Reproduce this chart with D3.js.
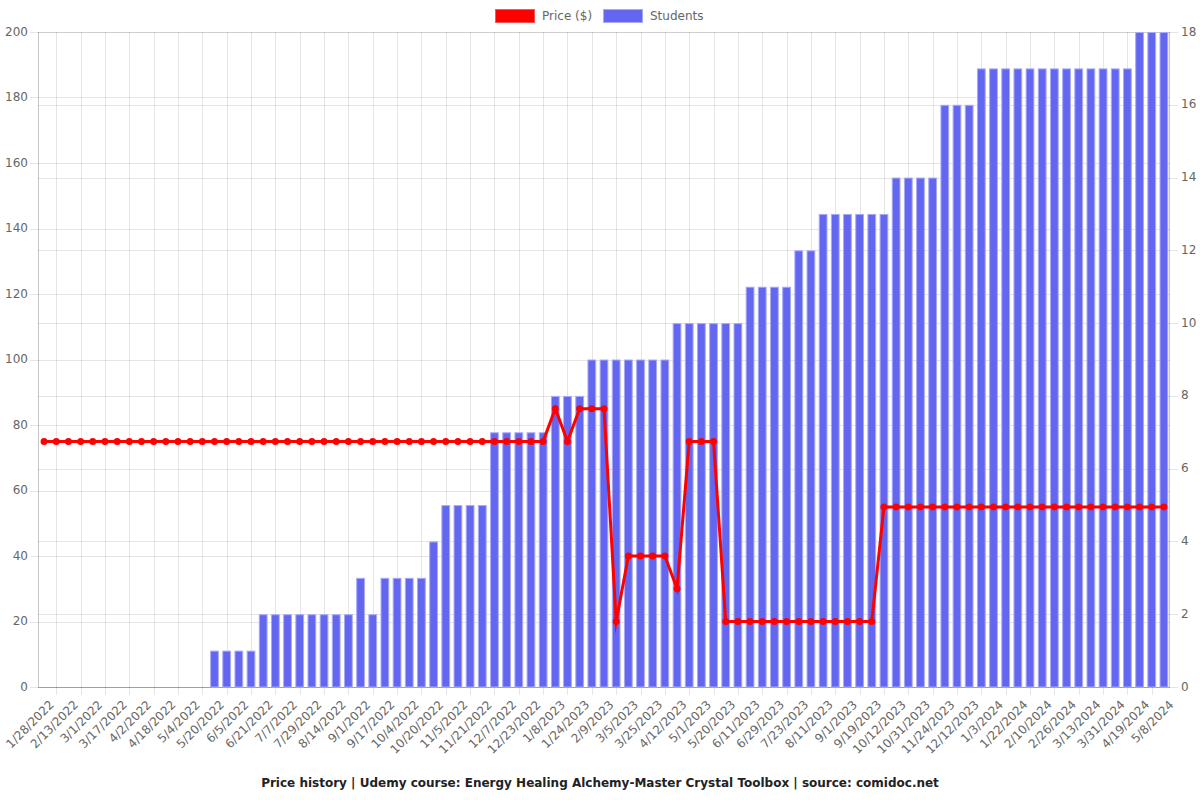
<!DOCTYPE html>
<html>
<head>
<meta charset="utf-8">
<script src="https://cdn.jsdelivr.net/npm/d3@7/dist/d3.min.js"></script>
<style>
  html, body { margin: 0; padding: 0; background: #fff; }
  svg { display: block; font-family: "DejaVu Sans", sans-serif; }
</style>
</head>
<body>
<svg id="chart" width="1200" height="800"></svg>
<script>
// ---- data ----
const dates = [
  "1/28/2022","2/5/2022","2/13/2022","2/21/2022","3/1/2022","3/9/2022","3/17/2022","3/25/2022",
  "4/2/2022","4/10/2022","4/18/2022","4/26/2022","5/4/2022","5/12/2022","5/20/2022","5/28/2022",
  "6/5/2022","6/13/2022","6/21/2022","6/29/2022","7/7/2022","7/18/2022","7/29/2022","8/6/2022",
  "8/14/2022","8/23/2022","9/1/2022","9/9/2022","9/17/2022","9/25/2022","10/4/2022","10/12/2022",
  "10/20/2022","10/28/2022","11/5/2022","11/13/2022","11/21/2022","11/29/2022","12/7/2022","12/15/2022",
  "12/23/2022","12/31/2022","1/8/2023","1/16/2023","1/24/2023","2/1/2023","2/9/2023","2/21/2023",
  "3/5/2023","3/15/2023","3/25/2023","4/3/2023","4/12/2023","4/21/2023","5/1/2023","5/10/2023",
  "5/20/2023","5/31/2023","6/11/2023","6/20/2023","6/29/2023","7/11/2023","7/23/2023","8/1/2023",
  "8/11/2023","8/21/2023","9/1/2023","9/10/2023","9/19/2023","9/30/2023","10/12/2023","10/21/2023",
  "10/31/2023","11/12/2023","11/24/2023","12/3/2023","12/12/2023","12/22/2023","1/3/2024","1/12/2024",
  "1/22/2024","2/1/2024","2/10/2024","2/18/2024","2/26/2024","3/5/2024","3/13/2024","3/22/2024",
  "3/31/2024","4/9/2024","4/19/2024","4/29/2024","5/8/2024"
];

const price = [
  75,75,75,75,75,75,75,75,75,75,75,75,75,75,75,75,75,75,75,75,
  75,75,75,75,75,75,75,75,75,75,75,75,75,75,75,75,75,75,75,75,
  75,75,85,75,85,85,85,20,40,40,40,40,30,75,75,75,20,20,20,20,
  20,20,20,20,20,20,20,20,20,55,55,55,55,55,55,55,55,55,55,55,
  55,55,55,55,55,55,55,55,55,55,55,55,55
];

const students = [
  0,0,0,0,0,0,0,0,0,0,0,0,0,0,1,1,1,1,2,2,
  2,2,2,2,2,2,3,2,3,3,3,3,4,5,5,5,5,7,7,7,
  7,7,8,8,8,9,9,9,9,9,9,9,10,10,10,10,10,10,11,11,
  11,11,12,12,13,13,13,13,13,13,14,14,14,14,16,16,16,17,17,17,
  17,17,17,17,17,17,17,17,17,17,18,18,18
];

const priceTicks = [0,20,40,60,80,100,120,140,160,180,200];
const studentTicks = [0,2,4,6,8,10,12,14,16,18];

const seriesNames = ["Price ($)", "Students"];
const titleText = "Price history | Udemy course: Energy Healing Alchemy-Master Crystal Toolbox | source: comidoc.net";

// ---- layout ----
const pLeft = 38, pRight = 1170, pTop = 32, pBottom = 687;
const gridColor = "rgba(0,0,0,0.1)";
const axisColor = "rgba(0,0,0,0.22)";
const textColor = "#666";
const priceColor = "#ff0000";
const barColor = "#6366f1";

const svg = d3.select("#chart");

const x = d3.scaleBand().domain(dates).range([pLeft, pRight]).padding(0);
const xc = d => x(d) + x.bandwidth() / 2;
const yL = d3.scaleLinear().domain([0, 200]).range([pBottom, pTop]);
const yR = d3.scaleLinear().domain([0, 18]).range([pBottom, pTop]);

const g = svg.append("g");

// horizontal grid from left axis (tick extends left)
g.append("g").selectAll("line").data(priceTicks).join("line")
  .attr("x1", pLeft - 8).attr("x2", pRight)
  .attr("y1", d => Math.round(yL(d)) + 0.5).attr("y2", d => Math.round(yL(d)) + 0.5)
  .attr("stroke", gridColor).attr("stroke-width", 1);

// horizontal grid from right axis (tick extends right)
g.append("g").selectAll("line").data(studentTicks).join("line")
  .attr("x1", pLeft).attr("x2", pRight + 8)
  .attr("y1", d => Math.round(yR(d)) + 0.5).attr("y2", d => Math.round(yR(d)) + 0.5)
  .attr("stroke", gridColor).attr("stroke-width", 1);

// vertical grid lines: halfway between displayed (every-other) ticks
const gridDates = dates.filter((d, i) => i % 2 === 1 && i < dates.length - 1);
g.append("g").selectAll("line").data(gridDates).join("line")
  .attr("x1", d => Math.round(xc(d)) + 0.5).attr("x2", d => Math.round(xc(d)) + 0.5)
  .attr("y1", pTop).attr("y2", pBottom + 8)
  .attr("stroke", gridColor).attr("stroke-width", 1);

// axis borders
g.append("line").attr("x1", pLeft + 0.5).attr("x2", pLeft + 0.5).attr("y1", pTop).attr("y2", pBottom)
  .attr("stroke", axisColor);
g.append("line").attr("x1", pRight - 0.5).attr("x2", pRight - 0.5).attr("y1", pTop).attr("y2", pBottom)
  .attr("stroke", axisColor);
g.append("line").attr("x1", pLeft).attr("x2", pRight).attr("y1", pBottom + 0.5).attr("y2", pBottom + 0.5)
  .attr("stroke", axisColor);

// left tick labels
g.append("g").selectAll("text").data(priceTicks).join("text")
  .attr("x", pLeft - 10).attr("y", d => yL(d))
  .attr("text-anchor", "end").attr("dominant-baseline", "middle")
  .attr("font-size", 12).attr("fill", textColor)
  .text(d => d);

// right tick labels
g.append("g").selectAll("text").data(studentTicks).join("text")
  .attr("x", pRight + 11).attr("y", d => yR(d))
  .attr("text-anchor", "start").attr("dominant-baseline", "middle")
  .attr("font-size", 12).attr("fill", textColor)
  .text(d => d);

// x tick labels (every other category)
const labelDates = dates.filter((d, i) => i % 2 === 0);
g.append("g").selectAll("text").data(labelDates).join("text")
  .attr("transform", d => `translate(${xc(d) + 8},${pBottom + 16}) rotate(-45)`)
  .attr("text-anchor", "end").attr("dominant-baseline", "middle")
  .attr("font-size", 12).attr("fill", textColor)
  .text(d => d);

// bars (students, right axis)
const bw = x.bandwidth() * 0.72;
g.append("g").selectAll("rect").data(dates.map((d, i) => ({d, v: students[i]})).filter(o => o.v > 0))
  .join("rect")
  .attr("x", o => xc(o.d) - bw / 2 + 0.5)
  .attr("width", bw - 1)
  .attr("y", o => yR(o.v) + 0.5)
  .attr("height", o => yR(0) - yR(o.v) - 0.5)
  .attr("fill", barColor)
  .attr("stroke", "#a9abf6").attr("stroke-width", 1);

// price line (left axis)
const line = d3.line().x((v, i) => xc(dates[i])).y(v => yL(v));
g.append("path").datum(price)
  .attr("d", line)
  .attr("fill", "none").attr("stroke", priceColor).attr("stroke-width", 3)
  .attr("stroke-linejoin", "miter").attr("stroke-miterlimit", 10);

g.append("g").selectAll("circle").data(price).join("circle")
  .attr("cx", (v, i) => xc(dates[i])).attr("cy", v => yL(v))
  .attr("r", 3.5).attr("fill", priceColor);

// legend
const legend = svg.append("g");
const legItems = [
  {name: seriesNames[0], x: 495, fill: priceColor, stroke: "#ff5555"},
  {name: seriesNames[1], x: 603, fill: barColor, stroke: "#a9abf6"}
];
legItems.forEach(it => {
  legend.append("rect").attr("x", it.x + 0.5).attr("y", 9.5).attr("width", 39).attr("height", 13)
    .attr("fill", it.fill).attr("stroke", it.stroke).attr("stroke-width", 1);
  legend.append("text").attr("x", it.x + 47).attr("y", 16)
    .attr("dominant-baseline", "middle").attr("font-size", 12).attr("fill", textColor)
    .text(it.name);
});

// title at bottom
svg.append("text").attr("x", 600).attr("y", 783)
  .attr("text-anchor", "middle").attr("dominant-baseline", "middle")
  .attr("font-size", 12).attr("font-weight", "bold").attr("fill", "#222")
  .text(titleText);
</script>
</body>
</html>
